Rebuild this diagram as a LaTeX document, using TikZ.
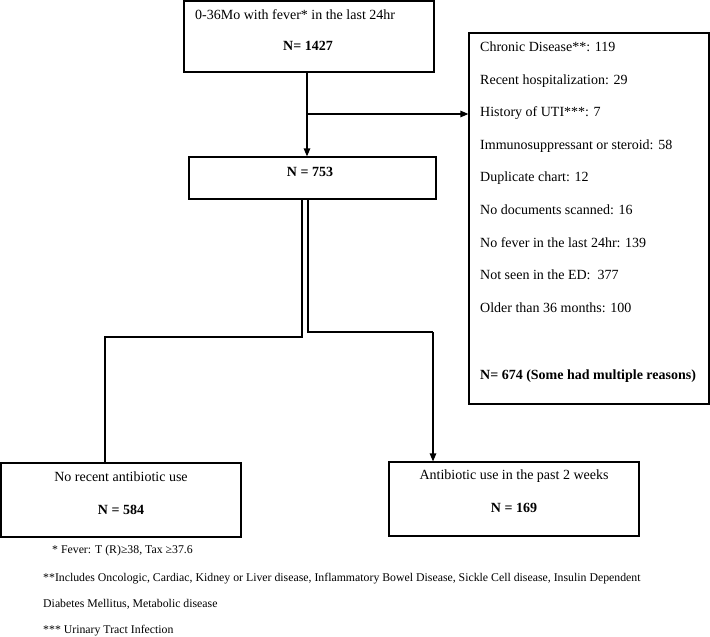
\documentclass[tikz,border=0pt]{standalone}
\usepackage{fontspec}
\setmainfont{Liberation Serif}
\usetikzlibrary{arrows.meta}
\begin{document}
\begin{tikzpicture}[x=1pt,y=-1pt,
  box/.style={draw, line width=1.2pt, rectangle, inner sep=0pt},
  txt/.style={inner sep=0pt, font=\fontsize{14}{16}\selectfont, text height=12pt, text depth=3pt},
  btxt/.style={txt, font=\fontsize{14}{16}\selectfont\bfseries},
  ltxt/.style={txt, anchor=west},
  fn/.style={inner sep=0pt, anchor=west, font=\fontsize{11.8}{14}\selectfont, text height=10.5pt, text depth=2.5pt},
  conn/.style={line width=1.2pt},
  arr/.style={conn, -{Triangle[length=8pt,width=6.5pt]}}]
\useasboundingbox (0,0) rectangle (710,637);

% boxes
\node[box, minimum width=250pt, minimum height=71pt] (top) at (309,36.5) {};
\node[box, minimum width=240pt, minimum height=371pt] (excl) at (589,218.5) {};
\node[box, minimum width=247pt, minimum height=42pt] (mid) at (312.5,178) {};
\node[box, minimum width=240pt, minimum height=74pt] (noab) at (121,500) {};
\node[box, minimum width=250pt, minimum height=74pt] (ab) at (514,499) {};

% top box text
\node[ltxt] (t1) at (195,15) {0-36Mo with fever* in the last 24hr};
\node[btxt] (t2) at (308,46) {N= 1427};

% exclusion text
\node[ltxt] (e1) at (480,47) {Chronic Disease**: 119};
\node[ltxt] (e2) at (480,79.6) {Recent hospitalization: 29};
\node[ltxt] (e3) at (480,112.2) {History of UTI***: 7};
\node[ltxt] (e4) at (480,144.8) {Immunosuppressant or steroid: 58};
\node[ltxt] (e5) at (480,177.4) {Duplicate chart: 12};
\node[ltxt] (e6) at (480,210) {No documents scanned: 16};
\node[ltxt] (e7) at (480,242.6) {No fever in the last 24hr: 139};
\node[ltxt] (e8) at (480,275.2) {Not seen in the ED:\ \ 377};
\node[ltxt] (e9) at (480,307.8) {Older than 36 months: 100};
\node[btxt, anchor=west] (e10) at (480,375) {N= 674 (Some had multiple reasons)};

% middle box
\node[btxt] (m1) at (310,172) {N = 753};

% bottom boxes
\node[txt] (n1) at (121,477) {No recent antibiotic use};
\node[btxt] (n2) at (121,510) {N = 584};
\node[txt] (a1) at (514,475) {Antibiotic use in the past 2 weeks};
\node[btxt] (a2) at (514,508) {N = 169};

% footnotes
\node[fn] (f1) at (52,549) {* Fever: T (R)≥38, Tax ≥37.6};
\node[fn] (f2) at (43,577) {**Includes Oncologic, Cardiac, Kidney or Liver disease, Inflammatory Bowel Disease, Sickle Cell disease, Insulin Dependent};
\node[fn] (f3) at (43,603.5) {Diabetes Mellitus, Metabolic disease};
\node[fn] (f4) at (43,629.5) {*** Urinary Tract Infection};

% connectors
\coordinate (vx) at (307,114);
\draw[arr] (vx |- top.south) -- (vx |- mid.north);
\draw[arr] (vx) -- (vx -| excl.west);

\coordinate (la) at (302,337);
\coordinate (lb) at (105,337);
\draw[conn] (la |- mid.south) -- (la) -- (lb) -- (lb |- noab.north);

\coordinate (ra) at (308,332);
\coordinate (rb) at (433,332);
\draw[conn] (ra |- mid.south) -- (ra) -- (rb);
\draw[arr] (rb) -- (rb |- ab.north);
\end{tikzpicture}
\end{document}
